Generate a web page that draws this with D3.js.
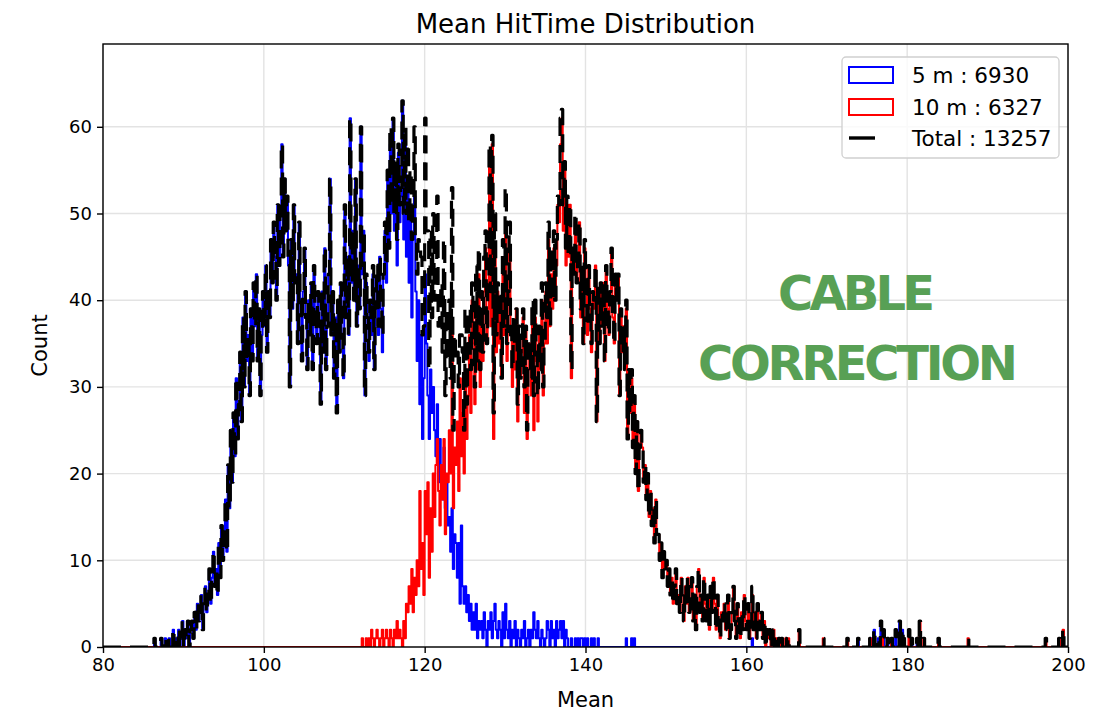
<!DOCTYPE html>
<html>
<head>
<meta charset="utf-8">
<script src="https://cdn.jsdelivr.net/npm/d3@7"></script>
<style>
  body { margin: 0; background: #fff; }
  svg { display: block; }
  text { font-family: "DejaVu Sans", sans-serif; fill: #000; }
</style>
</head>
<body>
<svg id="chart" width="1099" height="714"></svg>
<script>
// Histogram binning: 80..200 with six bins per unit of "Mean"
const HIST_MIN = 80;
const HIST_MAX = 200;
const BINS_PER_UNIT = 6;

const xTicks = [80, 100, 120, 140, 160, 180, 200];
const yTicks = [0, 10, 20, 30, 40, 50, 60];
const seriesNames = ["5 m", "10 m", "Total"];

// 5 m cable: consecutive bin counts starting at Mean = 86 (one line per unit)
const start5m = 86;
const counts5m = [
  0,0,1,0,0,0,
  0,1,0,0,1,0,
  0,1,0,0,2,0,
  1,0,2,0,1,3,
  0,2,1,3,0,2,
  3,1,4,2,5,3,
  4,6,2,5,7,4,
  6,9,5,8,11,7,
  9,6,12,8,14,10,
  13,17,11,21,16,25,
  19,27,22,31,24,28,
  34,26,38,30,41,33,
  36,29,39,33,42,37,
  43,33,39,29,36,41,
  37,44,34,41,38,47,
  42,49,45,40,51,44,
  50,58,45,54,48,52,
  44,30,47,39,51,42,
  43,35,49,40,33,41,
  46,38,32,40,36,42,
  32,44,39,35,41,37,
  28,41,34,46,32,37,
  43,54,36,41,31,38,
  27,40,34,42,36,31,
  51,38,45,36,61,42,
  48,40,54,37,44,39,
  60,43,48,29,42,38,
  33,40,36,43,32,39,
  42,36,45,39,34,43,
  48,42,54,46,58,50,
  61,48,55,44,57,49,
  52,63,47,59,45,54,
  42,50,38,47,52,41,
  33,40,28,36,24,31,
  43,35,29,24,32,27,
  30,25,22,28,19,24,
  21,17,23,16,19,14,
  15,11,16,9,13,12,
  8,12,5,14,7,5,
  7,4,6,3,5,2,
  4,2,5,1,3,2,
  3,1,4,2,0,3,
  2,4,1,3,5,2,
  1,3,2,0,4,1,
  5,2,1,3,0,2,
  1,3,0,2,1,0,
  2,1,3,0,1,2,
  0,2,1,4,2,1,
  3,1,0,2,1,0,
  1,3,2,0,3,1,
  2,0,3,1,2,3,
  1,3,0,2,1,0,
  0,1,0,0,1,0,
  1,0,1,1,0,1,
  0,1,0,0,1,0,
  1,0,0,1,0,0,
  0,0,0,0,0,0,
  0,0,0,0,0,0,
  0,0,0,0,0,0,
  1,0,0,0,1,0,
  1
];
// 5 m cable: isolated far-tail bins [Mean, count]
const sparse5m = [
  [160.67, 1], [173.83, 1], [175.5, 1], [175.83, 2], [176.33, 1], [176.67, 3],
  [177.0, 2], [177.5, 1], [178.5, 2], [179.0, 3], [179.33, 2], [180.5, 1], [181.17, 1]
];

// 10 m cable: consecutive bin counts starting at Mean = 112
const start10m = 112;
const counts10m = [
  0,1,0,0,1,0,
  1,0,2,1,0,1,
  2,1,0,1,2,0,
  1,2,1,0,2,1,
  0,2,1,3,1,2,
  1,0,3,1,5,4,
  7,5,9,4,8,6,
  10,7,18,9,12,6,
  18,13,19,8,16,11,
  20,15,21,24,18,14,
  21,17,24,13,20,19,
  25,20,37,16,23,21,
  26,18,31,22,27,20,
  32,24,29,36,27,40,
  35,28,39,32,43,30,
  38,33,41,46,35,39,
  56,37,58,24,45,34,
  41,35,39,31,43,36,
  48,33,40,46,36,30,
  37,32,39,26,36,31,
  34,38,27,37,24,32,
  35,29,39,25,38,33,
  26,36,32,40,29,35,
  41,35,47,37,43,39,
  46,40,44,51,49,58,
  61,48,56,44,51,45,
  51,31,46,43,49,42,
  44,49,38,43,35,46,
  41,36,44,39,34,41,
  39,44,26,41,35,42,
  37,42,33,44,39,36,
  41,46,38,35,43,40,
  43,29,39,34,37,32,
  39,24,32,27,31,23,
  28,20,26,18,23,25,
  23,19,21,17,20,15,
  18,14,16,12,17,13,
  13,10,12,8,11,9,
  10,7,9,6,8,5,
  7,9,5,6,4,8,
  6,3,7,5,8,4,
  5,8,3,6,2,7,
  9,4,6,3,8,5,
  3,6,2,7,4,8,
  5,2,6,3,1,4,
  3,5,2,4,6,1,
  2,4,7,3,1,5,
  3,1,4,2,6,3,
  2,5,1,3,6,2,
  4,1,5,3,2,4,
  1,3,0,2,1,2,
  0,1,2,0,1,0,
  1,0,1,0,0,1,
  0,1,0,0,0,0,
  0,0,0,2,0,0
];
// 10 m cable: isolated far-tail bins [Mean, count]
const sparse10m = [
  [169.5, 1], [172.5, 1], [175.33, 1], [176.83, 1], [178.0, 1], [179.5, 1], [180.17, 2],
  [181.5, 3], [182.0, 1], [183.83, 1], [187.5, 1], [197.17, 1], [198.83, 1], [199.33, 2]
];

// ---- build full-range histograms ----
const nBins = (HIST_MAX - HIST_MIN) * BINS_PER_UNIT;
const binIndex = v => Math.round((v - HIST_MIN) * BINS_PER_UNIT);
function expand(start, counts, sparse) {
  const full = new Array(nBins).fill(0);
  const i0 = binIndex(start);
  counts.forEach((c, i) => { full[i0 + i] += c; });
  sparse.forEach(([v, c]) => { full[binIndex(v)] += c; });
  return full;
}
const hist5m = expand(start5m, counts5m, sparse5m);
const hist10m = expand(start10m, counts10m, sparse10m);
const histTotal = hist5m.map((c, i) => c + hist10m[i]);

// ---- layout ----
const plot = { left: 103, right: 1068, top: 44, bottom: 647 };
const svg = d3.select("#chart");

const x = d3.scaleLinear().domain([HIST_MIN, HIST_MAX]).range([plot.left, plot.right]);
const y = d3.scaleLinear().domain([0, 69.55]).range([plot.bottom, plot.top]);

// grid
const grid = svg.append("g").attr("stroke", "#e3e3e3").attr("stroke-width", 1.4);
grid.selectAll("line.gx").data(xTicks).join("line")
  .attr("x1", d => x(d)).attr("x2", d => x(d))
  .attr("y1", plot.top).attr("y2", plot.bottom);
grid.selectAll("line.gy").data(yTicks).join("line")
  .attr("x1", plot.left).attr("x2", plot.right)
  .attr("y1", d => y(d)).attr("y2", d => y(d));

// step outline of a histogram
function stepPoints(h) {
  const pts = [[HIST_MIN, 0]];
  h.forEach((c, i) => {
    pts.push([HIST_MIN + i / BINS_PER_UNIT, c]);
    pts.push([HIST_MIN + (i + 1) / BINS_PER_UNIT, c]);
  });
  pts.push([HIST_MAX, 0]);
  return pts;
}
const line = d3.line().x(d => x(d[0])).y(d => y(d[1]));

svg.append("clipPath").attr("id", "plotClip").append("rect")
  .attr("x", plot.left).attr("y", plot.top)
  .attr("width", plot.right - plot.left).attr("height", plot.bottom - plot.top);

const marks = svg.append("g").attr("clip-path", "url(#plotClip)");
marks.append("path").attr("d", line(stepPoints(hist5m)))
  .attr("fill", "none").attr("stroke", "#0000ff").attr("stroke-width", 2)
  .attr("stroke-linejoin", "round");
marks.append("path").attr("d", line(stepPoints(hist10m)))
  .attr("fill", "none").attr("stroke", "#ff0000").attr("stroke-width", 2)
  .attr("stroke-linejoin", "round");
marks.append("path").attr("d", line(stepPoints(histTotal)))
  .attr("fill", "none").attr("stroke", "#000").attr("stroke-width", 3.2)
  .attr("stroke-dasharray", "18,9").attr("stroke-linejoin", "round");

// frame
svg.append("rect").attr("x", plot.left).attr("y", plot.top)
  .attr("width", plot.right - plot.left).attr("height", plot.bottom - plot.top)
  .attr("fill", "none").attr("stroke", "#000").attr("stroke-width", 1.4);

// axes
const xAxis = d3.axisBottom(x).tickValues(xTicks).tickSize(6).tickPadding(5);
const yAxis = d3.axisLeft(y).tickValues(yTicks).tickSize(6).tickPadding(5);
const gx = svg.append("g").attr("transform", `translate(0,${plot.bottom})`).call(xAxis);
const gy = svg.append("g").attr("transform", `translate(${plot.left},0)`).call(yAxis);
[gx, gy].forEach(g => {
  g.select(".domain").remove();
  g.selectAll(".tick line").attr("stroke", "#000").attr("stroke-width", 1.4);
  g.selectAll(".tick text").attr("font-family", "DejaVu Sans").attr("font-size", 18).attr("fill", "#000");
});

// title and axis labels
svg.append("text").attr("x", (plot.left + plot.right) / 2).attr("y", 33)
  .attr("text-anchor", "middle").attr("font-size", 26).text("Mean HitTime Distribution");
svg.append("text").attr("x", (plot.left + plot.right) / 2).attr("y", 707)
  .attr("text-anchor", "middle").attr("font-size", 21).text("Mean");
svg.append("text").attr("transform", `translate(47,${(plot.top + plot.bottom) / 2}) rotate(-90)`)
  .attr("text-anchor", "middle").attr("font-size", 21).text("Count");

// legend (counts are the histogram totals)
const totals = [d3.sum(hist5m), d3.sum(hist10m), d3.sum(histTotal)];
const lg = svg.append("g");
lg.append("rect").attr("x", 842).attr("y", 57).attr("width", 217).attr("height", 101)
  .attr("rx", 4).attr("fill", "#fff").attr("fill-opacity", 0.8)
  .attr("stroke", "#d0d0d0").attr("stroke-width", 1.3);
lg.append("rect").attr("x", 849).attr("y", 67).attr("width", 44).attr("height", 16)
  .attr("fill", "none").attr("stroke", "#0000ff").attr("stroke-width", 2);
lg.append("rect").attr("x", 849).attr("y", 99).attr("width", 44).attr("height", 16)
  .attr("fill", "none").attr("stroke", "#ff0000").attr("stroke-width", 2);
lg.append("line").attr("x1", 849).attr("x2", 875).attr("y1", 138).attr("y2", 138)
  .attr("stroke", "#000").attr("stroke-width", 3.4);
[83, 115, 146].forEach((by, i) => {
  lg.append("text").attr("x", 912).attr("y", by).attr("font-size", 21.5)
    .text(`${seriesNames[i]} : ${totals[i]}`);
});

// annotation
const note = svg.append("g").attr("font-family", "Inter, 'Open Sans', sans-serif")
  .attr("font-weight", 600).attr("text-anchor", "middle");
note.append("text").attr("x", 856.5).attr("y", 310).attr("font-size", 48)
  .attr("textLength", 157).attr("lengthAdjust", "spacing")
  .style("fill", "#58a055").text("CABLE");
note.append("text").attr("x", 858).attr("y", 380).attr("font-size", 48)
  .attr("textLength", 320).attr("lengthAdjust", "spacing")
  .style("fill", "#58a055").text("CORRECTION");
</script>
</body>
</html>
